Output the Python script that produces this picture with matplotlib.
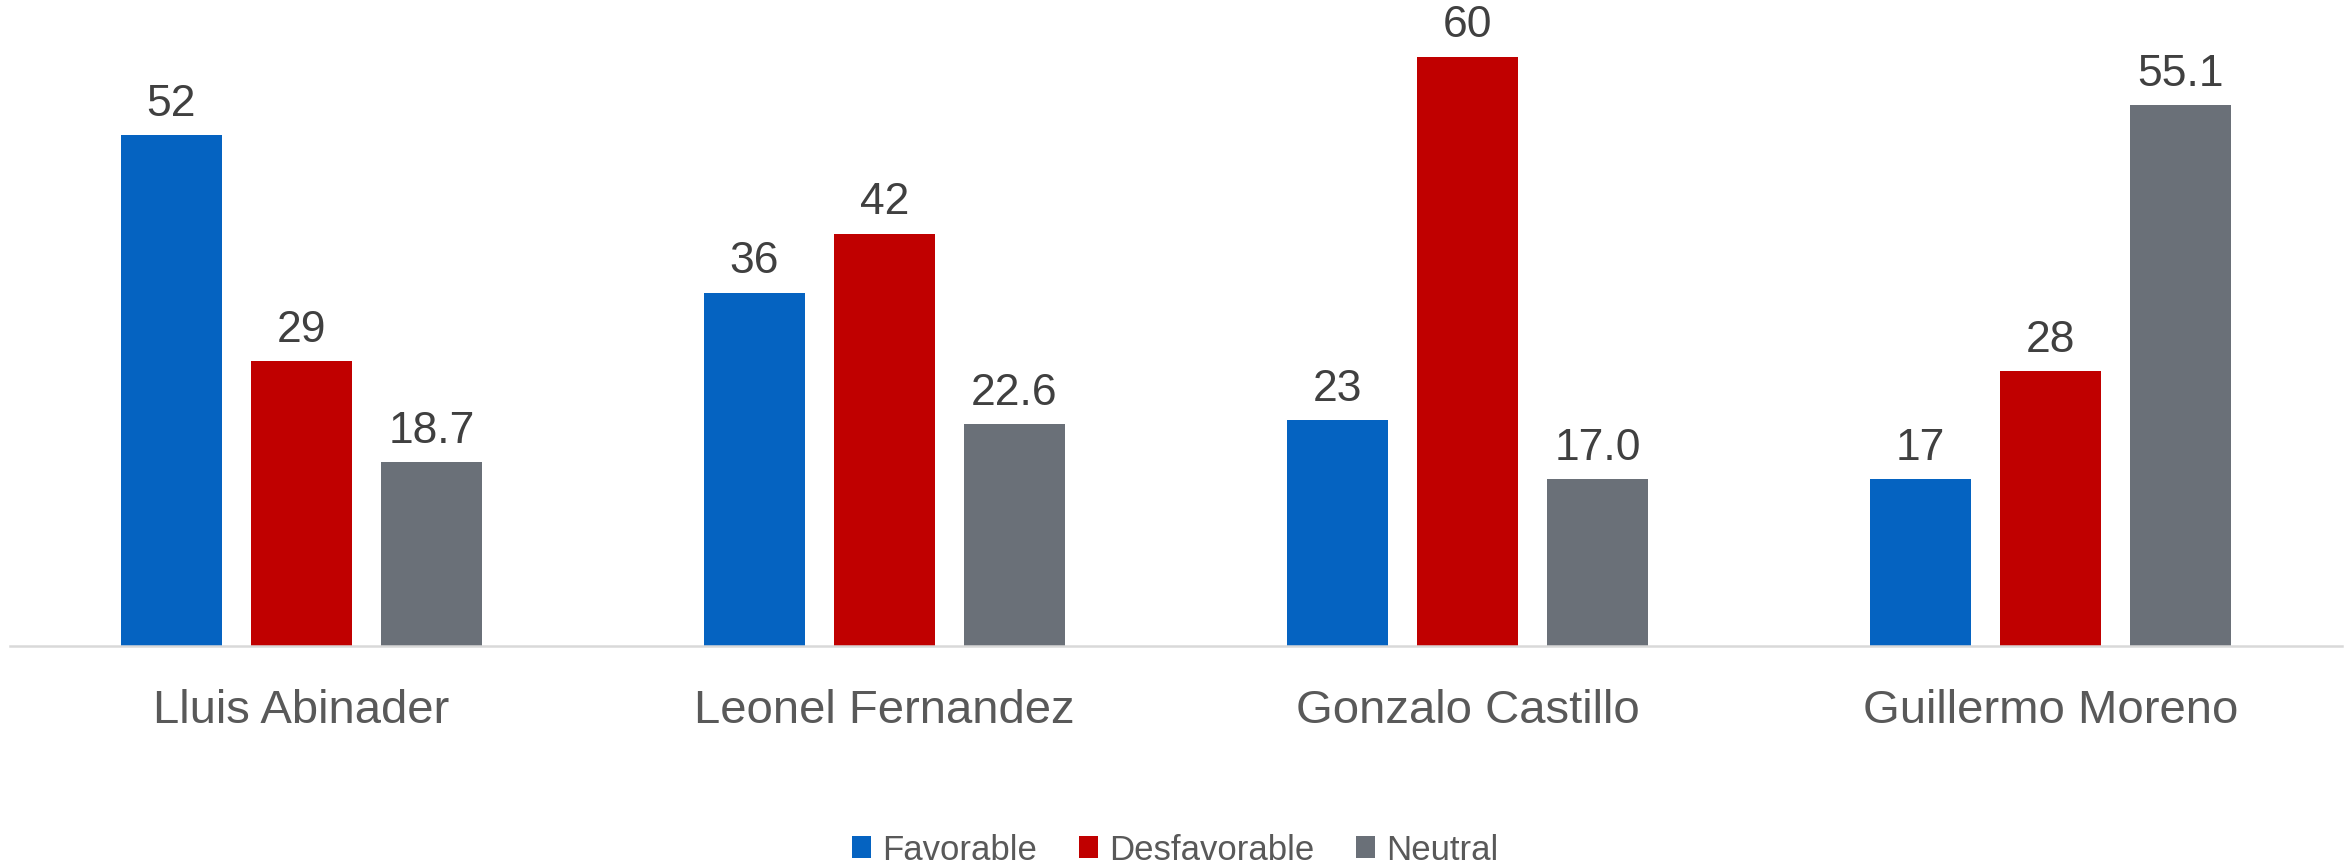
import numpy as np
import matplotlib
matplotlib.use("Agg")
import matplotlib.pyplot as plt

plt.rcParams['font.family'] = ['Liberation Sans', 'DejaVu Sans']

# Data
candidates = ["Lluis Abinader", "Leonel Fernandez", "Gonzalo Castillo", "Guillermo Moreno"]
favorable = [52, 36, 23, 17]
desfavorable = [29, 42, 60, 28]
neutral = [18.7, 22.6, 17.0, 55.1]

series_names = ["Favorable", "Desfavorable", "Neutral"]
series_vals = [favorable, desfavorable, neutral]
series_fmt = ["{:.0f}", "{:.0f}", "{:.1f}"]
colors = ["#0563C1", "#C00000", "#6A7078"]

fig = plt.figure(figsize=(23.51, 8.63), dpi=100)
ax = fig.add_axes([10 / 2351, 1 - 646 / 863, 2332 / 2351, 646 / 863])

x = np.arange(len(candidates))
offsets = [-0.223, 0.0, 0.223]
width = 0.173

for vals, name, col, off, fmt in zip(series_vals, series_names, colors, offsets, series_fmt):
    bars = ax.bar(x + off, vals, width, color=col, label=name)
    for b, v in zip(bars, vals):
        ax.annotate(fmt.format(v), (b.get_x() + b.get_width() / 2, v),
                    xytext=(0, 14), textcoords="offset points",
                    ha="center", va="baseline", fontsize=32, color="#404040")

ax.set_xlim(-0.5, len(candidates) - 0.5)
ax.set_ylim(0, 65.8)
ax.set_xticks(x)
ax.set_xticklabels(candidates, fontsize=34, color="#595959")
ax.tick_params(axis="x", length=0, pad=31)
ax.set_yticks([])
for s in ["top", "left", "right"]:
    ax.spines[s].set_visible(False)
ax.spines["bottom"].set_color("#D9D9D9")
ax.spines["bottom"].set_linewidth(1.8)

fig.legend(loc="center", bbox_to_anchor=(0.5, 1 - 850 / 863), ncol=3, frameon=False,
           fontsize=25, handlelength=0.55, handleheight=0.6, handletextpad=0.32,
           columnspacing=1.2, labelcolor="#595959")

fig.savefig("out.png", dpi=100)
